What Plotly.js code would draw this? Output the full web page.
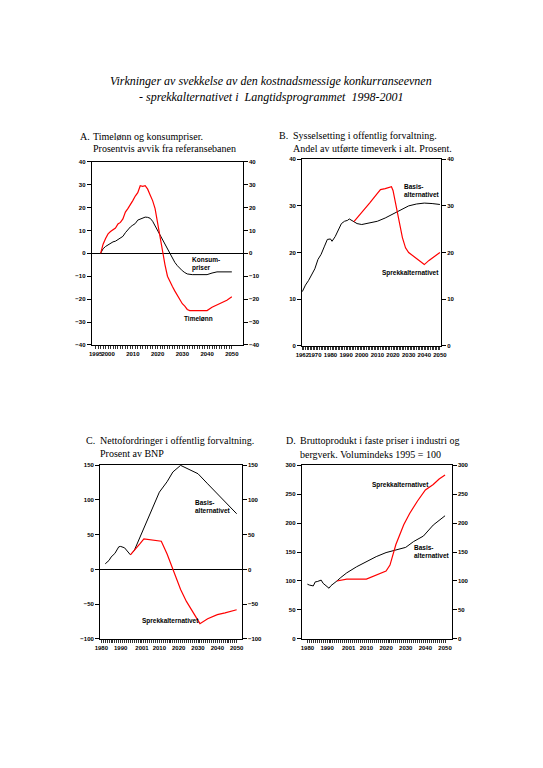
<!DOCTYPE html>
<html>
<head>
<meta charset="utf-8">
<script src="https://cdn.plot.ly/plotly-3.0.1.min.js"></script>
<style>
  body { margin: 0; background: #fff; }
  #chart { width: 543px; height: 768px; }
</style>
</head>
<body>
<div id="chart"></div>
<script>
// A. Timelønn og konsumpriser, avvik fra referansebanen (prosent)
const aYearsLonn = [1997, 1998, 1999, 2000, 2001, 2002, 2003, 2004, 2005, 2006, 2007, 2008, 2009, 2010,
  2011, 2012, 2013, 2014, 2015, 2016, 2017, 2018, 2019, 2020, 2021, 2022, 2023, 2024, 2025, 2026, 2027,
  2028, 2029, 2030, 2031, 2032, 2033, 2035, 2040, 2042, 2044, 2046, 2048, 2050];
const aTimelonn = [0, 4, 6.5, 8.5, 9.5, 10.2, 11, 12.8, 13.5, 15, 18, 19.5, 21, 23,
  25, 26.5, 29.5, 29.2, 29.5, 28, 25.5, 23, 19.5, 13, 6, 0, -5, -10, -12.5, -14.5, -16.5,
  -18.5, -20, -22, -23, -24.5, -25, -25, -25, -23.5, -22.5, -21.5, -20.5, -19];
const aYearsKons = [1997, 1998, 1999, 2000, 2001, 2002, 2003, 2004, 2005, 2006, 2007, 2008, 2009, 2010,
  2011, 2012, 2013, 2014, 2015, 2016, 2017, 2018, 2019, 2020, 2021, 2022, 2023, 2024, 2025, 2026, 2027,
  2028, 2029, 2030, 2031, 2032, 2034, 2040, 2042, 2044, 2050];
const aKonsum = [0, 2, 3, 3.8, 4.5, 5, 5.3, 6, 6.7, 7.4, 9, 10.4, 11.5, 12.3,
  13, 14.5, 15, 15.2, 15.8, 15.7, 15.3, 14, 12, 10, 7.5, 5.5, 3.5, 1.5, -0.5, -2.5, -4,
  -5.4, -6.6, -7.6, -8.4, -9, -9.3, -9.3, -8.6, -8.1, -8.1];

// B. Sysselsetting i offentlig forvaltning, andel av timeverk (prosent)
const bYearsBasis = [1962, 1964, 1966, 1968, 1970, 1972, 1974, 1976, 1978, 1980, 1981, 1983, 1985, 1987,
  1989, 1991, 1992, 1993, 1995, 1997, 2000, 2005, 2010, 2015, 2020, 2025, 2030, 2035, 2040, 2045, 2050];
const bBasis = [11.6, 13, 14, 15.3, 16.5, 18.5, 19.6, 21.2, 22.8, 22.9, 22.4, 23.4, 24.8, 26.2,
  26.7, 26.9, 27.2, 27, 26.5, 26.2, 26, 26.3, 26.7, 27.4, 28.3, 29.2, 30, 30.4, 30.6, 30.5, 30.3];
const bYearsSprekk = [1995, 2000, 2005, 2010, 2012, 2015, 2019, 2020, 2022, 2024, 2026, 2028, 2030,
  2035, 2040, 2043, 2046, 2050];
const bSprekk = [26.6, 28.5, 30.6, 32.7, 33.5, 33.7, 34.1, 33.3, 30, 26, 23.2, 21, 20,
  18.7, 17.4, 18.3, 19.1, 20];

// C. Nettofordringer i offentlig forvaltning (prosent av BNP)
const cYearsBasis = [1982, 1984, 1985, 1987, 1989, 1990, 1992, 1994, 1995, 1997, 2000, 2003, 2007, 2010,
  2014, 2017, 2021, 2023, 2030, 2035, 2042, 2050];
const cBasis = [8, 13, 17.7, 23, 32.5, 33, 31, 24, 21, 27, 46, 66, 92, 111,
  126, 140, 149.5, 147, 137.5, 123, 103, 80];
const cYearsSprekk = [1995, 1997, 2000, 2002, 2004, 2008, 2011, 2014, 2017, 2021, 2024, 2031, 2035,
  2040, 2044, 2050];
const cSprekk = [21, 27, 37, 44, 43, 42, 40.5, 22, 0, -29, -46, -78, -71, -65, -62.5, -58];

// D. Bruttoprodukt i industri og bergverk, volumindeks 1995 = 100
const dYearsBasis = [1980, 1981, 1983, 1984, 1985, 1987, 1988, 1990, 1991, 1992, 1994, 1995, 1997, 2000,
  2005, 2010, 2015, 2020, 2025, 2030, 2034, 2039, 2044, 2050];
const dBasis = [94.5, 93, 91.5, 98.5, 99, 101.5, 96, 90, 87.5, 92, 98.5, 100, 106, 114,
  124.5, 133, 142, 149, 153.5, 158, 168, 177.5, 196.5, 212.5];
const dYearsSprekk = [1995, 1997, 2000, 2010, 2015, 2020, 2022, 2024, 2025, 2029, 2032, 2036, 2040,
  2044, 2047, 2050];
const dSprekk = [100, 101.5, 103.3, 103.3, 110, 117, 127.5, 151, 163, 197, 216.5, 238, 257,
  266.5, 276, 283];

// tick labels
const aTicks = [1995, 2000, 2010, 2020, 2030, 2040, 2050];
const bTicks = [1962, 1970, 1980, 1990, 2000, 2010, 2020, 2030, 2040, 2050];
const cdTicks = [1980, 1990, 2001, 2010, 2020, 2030, 2040, 2050];

const RED = '#ff0000';
const tickFont = { family: 'Liberation Sans, Arial, sans-serif', size: 6, color: '#000', weight: 'bold' };
const lblFont = { family: 'Liberation Sans, Arial, sans-serif', size: 6.5, color: '#000', weight: 'bold' };
const ttlFont = { family: 'Liberation Serif, Times New Roman, serif', size: 10, color: '#000' };

function line(x, y, color, w, xa, ya) {
  return { x: x, y: y, type: 'scatter', mode: 'lines', xaxis: xa, yaxis: ya,
           line: { color: color, width: w }, hoverinfo: 'skip', showlegend: false };
}

// one tick per year, text only on the labelled years
function xAxis(dom, anchor, range, labels, first, last) {
  const vals = [], text = [];
  for (let yr = first; yr <= last; yr++) {
    vals.push(yr);
    text.push(labels.indexOf(yr) >= 0 ? String(yr) : '');
  }
  return {
    domain: dom, anchor: anchor, range: range,
    tickmode: 'array', tickvals: vals, ticktext: text, tickangle: 0,
    ticks: 'outside', ticklen: 3, tickcolor: '#000', tickwidth: 0.8,
    showline: true, linecolor: '#000', linewidth: 1, mirror: true,
    showgrid: false, zeroline: false, tickfont: tickFont, fixedrange: true
  };
}

function yAxis(dom, anchor, range, dtick, zero, side, overlay) {
  const ax = {
    domain: dom, anchor: anchor, range: range, side: side,
    tickmode: 'linear', tick0: range[0], dtick: dtick,
    ticks: 'outside', ticklen: 4, tickcolor: '#000', tickwidth: 1,
    showline: true, linecolor: '#000', linewidth: 1,
    showgrid: false, zeroline: zero, zerolinecolor: '#000', zerolinewidth: 1,
    tickfont: tickFont, fixedrange: true
  };
  if (overlay) { ax.overlaying = overlay; ax.zeroline = false; }
  return ax;
}

const data = [
  line(aYearsKons, aKonsum, '#000', 1, 'x', 'y'),
  line(aYearsLonn, aTimelonn, RED, 1.2, 'x', 'y'),
  line(bYearsBasis, bBasis, '#000', 1, 'x2', 'y3'),
  line(bYearsSprekk, bSprekk, RED, 1.2, 'x2', 'y3'),
  line(cYearsBasis, cBasis, '#000', 1, 'x3', 'y5'),
  line(cYearsSprekk, cSprekk, RED, 1.2, 'x3', 'y5'),
  line(dYearsBasis, dBasis, '#000', 1, 'x4', 'y7'),
  line(dYearsSprekk, dSprekk, RED, 1.2, 'x4', 'y7'),
  // empty traces so the right-hand axes are drawn
  line([], [], '#000', 1, 'x', 'y2'),
  line([], [], '#000', 1, 'x2', 'y4'),
  line([], [], '#000', 1, 'x3', 'y6'),
  line([], [], '#000', 1, 'x4', 'y8')
];

const aDomX = [0.1689, 0.4470], aDomY = [0.5508, 0.7895];
const bDomX = [0.5562, 0.8122], bDomY = [0.5499, 0.7926];
const cDomX = [0.1842, 0.4451], cDomY = [0.1680, 0.3945];
const dDomX = [0.5556, 0.8319], dDomY = [0.1680, 0.3945];

function ann(text, x, y, xr, yr, font, xanchor) {
  return { text: text, x: x, y: y, xref: xr, yref: yr, showarrow: false,
           xanchor: xanchor || 'left', yanchor: 'middle', align: 'left', font: font };
}

const annotations = [
  ann('<i>Virkninger av svekkelse av den kostnadsmessige konkurranseevnen</i>', 0.499, 1 - 81 / 768,
      'paper', 'paper', { family: 'Liberation Serif, Times New Roman, serif', size: 12, color: '#000' }, 'center'),
  ann('<i>- sprekkalternativet i  Langtidsprogrammet  1998-2001</i>', 0.499, 1 - 97 / 768,
      'paper', 'paper', { family: 'Liberation Serif, Times New Roman, serif', size: 12, color: '#000' }, 'center'),

  ann('A.', 78 / 543, 1 - 137 / 768, 'paper', 'paper', ttlFont),
  ann('Timelønn og konsumpriser.', 91 / 543, 1 - 137 / 768, 'paper', 'paper', ttlFont),
  ann('Prosentvis avvik fra referansebanen', 91 / 543, 1 - 149 / 768, 'paper', 'paper', ttlFont),
  ann('B.', 277 / 543, 1 - 135 / 768, 'paper', 'paper', ttlFont),
  ann('Sysselsetting i offentlig forvaltning.', 291 / 543, 1 - 135 / 768, 'paper', 'paper', ttlFont),
  ann('Andel av utførte timeverk i alt. Prosent.', 291 / 543, 1 - 148 / 768, 'paper', 'paper', ttlFont),
  ann('C.', 84 / 543, 1 - 440 / 768, 'paper', 'paper', ttlFont),
  ann('Nettofordringer i offentlig forvaltning.', 98 / 543, 1 - 440 / 768, 'paper', 'paper', ttlFont),
  ann('Prosent av BNP', 98 / 543, 1 - 453 / 768, 'paper', 'paper', ttlFont),
  ann('D.', 284 / 543, 1 - 440 / 768, 'paper', 'paper', ttlFont),
  ann('Bruttoprodukt i faste priser i industri og', 298 / 543, 1 - 440 / 768, 'paper', 'paper', ttlFont),
  ann('bergverk. Volumindeks 1995 = 100', 298 / 543, 1 - 454 / 768, 'paper', 'paper', ttlFont),

  ann('Konsum-<br>priser', 2033, -4.8, 'x', 'y', lblFont),
  ann('Timelønn', 2029.7, -28.3, 'x', 'y', lblFont),
  ann('Basis-<br>alternativet', 2025.6, 33.4, 'x2', 'y3', lblFont),
  ann('Sprekkalternativet', 2011.4, 15.5, 'x2', 'y3', lblFont),
  ann('Basis-<br>alternativet', 2027.6, 91, 'x3', 'y5', lblFont),
  ann('Sprekkalternativet', 2000, -74.7, 'x3', 'y5', lblFont),
  ann('Sprekkalternativet', 2011.9, 265.5, 'x4', 'y7', lblFont),
  ann('Basis-<br>alternativet', 2033, 150.6, 'x4', 'y7', lblFont)
];

const layout = {
  width: 543, height: 768,
  margin: { l: 0, r: 0, t: 0, b: 0 },
  paper_bgcolor: '#fff', plot_bgcolor: '#fff',
  showlegend: false,
  xaxis: xAxis(aDomX, 'y', [1993.4, 2054.4], aTicks, 1995, 2050),
  yaxis: yAxis(aDomY, 'x', [-40, 40], 10, true, 'left'),
  yaxis2: yAxis(aDomY, 'x', [-40, 40], 10, false, 'right', 'y'),
  xaxis2: xAxis(bDomX, 'y3', [1961.8, 2050.7], bTicks, 1962, 2050),
  yaxis3: yAxis(bDomY, 'x2', [0, 40], 10, false, 'left'),
  yaxis4: yAxis(bDomY, 'x2', [0, 40], 10, false, 'right', 'y3'),
  xaxis3: xAxis(cDomX, 'y5', [1979.3, 2052.6], cdTicks, 1980, 2050),
  yaxis5: yAxis(cDomY, 'x3', [-100, 150], 50, true, 'left'),
  yaxis6: yAxis(cDomY, 'x3', [-100, 150], 50, false, 'right', 'y5'),
  xaxis4: xAxis(dDomX, 'y7', [1977.1, 2053.4], cdTicks, 1980, 2050),
  yaxis7: yAxis(dDomY, 'x4', [0, 300], 50, false, 'left'),
  yaxis8: yAxis(dDomY, 'x4', [0, 300], 50, false, 'right', 'y7'),
  annotations: annotations
};

Plotly.newPlot('chart', data, layout, { staticPlot: true, displayModeBar: false });
</script>
</body>
</html>
